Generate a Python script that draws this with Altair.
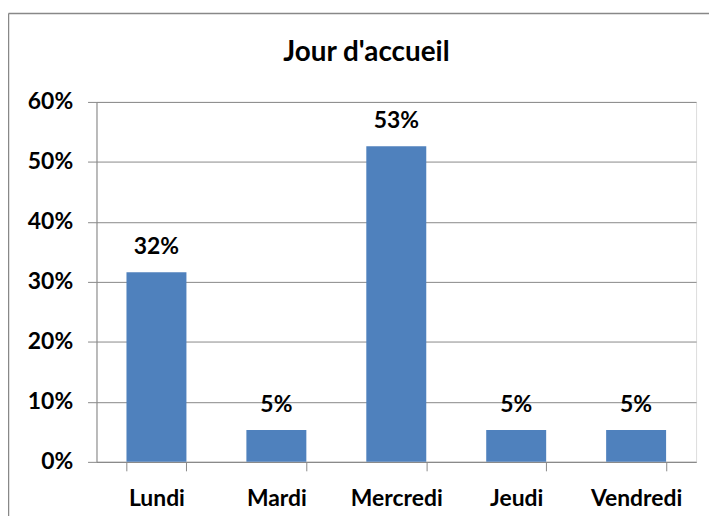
import altair as alt
import pandas as pd

jours = ["Lundi", "Mardi", "Mercredi", "Jeudi", "Vendredi"]
parts = [0.316, 0.053, 0.526, 0.053, 0.053]
y_ticks = [0, 0.1, 0.2, 0.3, 0.4, 0.5, 0.6]
titre = "Jour d'accueil"

df = pd.DataFrame({"jour": jours, "part": parts})

GRAY = "#888888"
BLUE = "#4F81BD"
FONT = "Lato"
FS = 23

x_enc = alt.X(
    "jour:N",
    sort=jours,
    scale=alt.Scale(paddingInner=0.5, paddingOuter=0.25),
    axis=alt.Axis(
        title=None,
        labelAngle=0,
        tickBand="extent",
        tickSize=9,
        tickColor=GRAY,
        domainColor=GRAY,
        labelFont=FONT,
        labelFontSize=FS,
        labelFontWeight="bold",
        labelColor="black",
        labelPadding=17,
        grid=False,
    ),
)
y_enc = alt.Y(
    "part:Q",
    scale=alt.Scale(domain=[0, 0.6], nice=False),
    axis=alt.Axis(
        title=None,
        values=y_ticks,
        format=".0%",
        tickSize=9,
        tickColor=GRAY,
        domainColor=GRAY,
        gridColor=GRAY,
        grid=True,
        labelFont=FONT,
        labelFontSize=FS,
        labelFontWeight="bold",
        labelColor="black",
        labelPadding=15,
    ),
)

base = alt.Chart(df)
bars = base.mark_bar(color=BLUE).encode(x=x_enc, y=y_enc)
labels = base.mark_text(
    baseline="bottom", dy=-13, font=FONT, fontSize=FS, fontWeight="bold", color="black"
).encode(x=alt.X("jour:N", sort=jours), y="part:Q", text=alt.Text("part:Q", format=".0%"))

one = pd.DataFrame({"t": [titre]})
title_mark = alt.Chart(one).mark_text(
    font=FONT, fontSize=28, fontWeight="bold", color="black", baseline="alphabetic", align="center"
).encode(x=alt.value(271.5), y=alt.value(-41), text="t:N")
border_left = alt.Chart(one).mark_rule(color=GRAY, strokeWidth=1.5).encode(
    x=alt.value(-88.5), y=alt.value(-89), y2=alt.value(700)
)
border_top = alt.Chart(one).mark_rule(color=GRAY, strokeWidth=1.5).encode(
    x=alt.value(-88.5), x2=alt.value(900), y=alt.value(-89)
)

chart = (
    alt.layer(bars, labels, title_mark, border_left, border_top)
    .properties(
        width=603,
        height=362,
        autosize=alt.AutoSizeParams(type="none"),
        padding={"left": 89, "top": 93, "right": 13, "bottom": 53},
    )
    .configure_view(stroke=None)
    .configure(background="white")
)

chart.save("out.html", embed_options={"renderer": "svg", "actions": False})
